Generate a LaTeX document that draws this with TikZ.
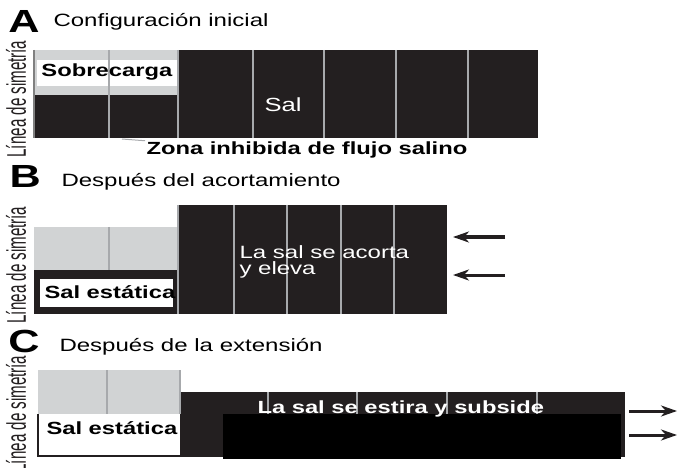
\documentclass[tikz,border=0pt]{standalone}
\usepackage{fontspec}
\setmainfont[FakeStretch=1.35]{Liberation Sans}
\newfontfamily\narrowfont[FakeStretch=0.56]{Liberation Sans}
\usetikzlibrary{arrows.meta,positioning}
\definecolor{saltc}{HTML}{231F20}
\definecolor{coverc}{HTML}{D1D3D4}
\definecolor{seamc}{HTML}{A7A9AC}

\begin{document}
\begin{tikzpicture}[x=1pt, y=-1pt, >={Stealth[length=16pt,width=11pt,inset=5pt]}, line width=3pt,
    font=\fontsize{17.8}{16}\selectfont,
    panel/.style={font=\fontsize{32}{32}\selectfont\bfseries, anchor=base west, inner sep=0pt},
    title/.style={anchor=base west, inner sep=0pt},
    axis/.style={font=\narrowfont\fontsize{27}{27}\selectfont, rotate=90, inner sep=0pt, text=saltc},
    tag/.style={font=\fontsize{17.6}{15}\selectfont\bfseries, anchor=base west, inner sep=0pt},
    salttext/.style={text=white, inner sep=0pt},
    seam/.style={draw=seamc, line width=1.2pt}]
\useasboundingbox (0,0) rectangle (678,468);

% A: configuracion inicial
\fill[coverc] (34,50) rectangle (178,95);
\fill[saltc]  (34,95) rectangle (178,138);
\fill[white]  (37,60) rectangle (177,86);
\fill[saltc]  (178,50) rectangle (538,138);
\draw[seam] (109,50) -- (109,138) (178,50) -- (178,138) (253,50) -- (253,138)
            (324,50) -- (324,138) (396,50) -- (396,138) (468,50) -- (468,138);
\draw[gray, line width=1.2pt] (34,50) -- (34,138);

\node[panel] (a)       at (7,33)   {A};
\node[title] (a title) at (52,27)  {Configuración inicial};
\node[axis]  (a axis)  at (16,99)  {Línea de simetría};
\node[tag]   (cover)   at (40,77)  {Sobrecarga};
\node[salttext, anchor=base west, font=\fontsize{19}{19}\selectfont] (salt) at (263,112) {Sal};
\node[tag]   (zone)    at (145,155) {Zona inhibida de flujo salino};
\coordinate  (zone tip) at (122,139);
\draw[seamc, line width=1pt] (zone tip) -- (zone.north west);

% B: despues del acortamiento
\fill[coverc] (34,227) rectangle (178,270);
\fill[saltc]  (34,270) rectangle (178,314);
\fill[white]  (40,279) rectangle (173,307);
\fill[saltc]  (178,205) rectangle (447,314);
\draw[seam] (109,227) -- (109,270) (178,205) -- (178,314) (234,205) -- (234,314)
            (287,205) -- (287,314) (341,205) -- (341,314) (394,205) -- (394,314);

\node[panel] (b)       at (8,188)  {B};
\node[title] (b title) at (60,187) {Después del acortamiento};
\node[axis]  (b axis)  at (16,265) {Línea de simetría};
\node[tag]   (b static) at (43,298) {Sal estática};
\node[salttext, anchor=north west, align=left] (rise) at (238,244) {La sal se acorta\\y eleva};
\coordinate (push top)    at (505,237);
\coordinate (push top e)  at (453,237);
\coordinate (push low)    at (505,275);
\coordinate (push low e)  at (453,275);
\draw[->, saltc] (push top) -- (push top e);
\draw[->, saltc] (push low) -- (push low e);

% C: despues de la extension
\fill[coverc] (38,370) rectangle (180,414);
\fill[white]  (38,414) rectangle (180,456);
\fill[saltc]  (180,392) rectangle (625,457);
\fill[black]  (223,414) rectangle (621,459);
\draw[seam] (107,370) -- (107,414) (180,370) -- (180,414) (268,392) -- (268,414)
            (357,392) -- (357,414) (447,392) -- (447,414) (537,392) -- (537,414);
\draw[saltc, line width=1.2pt] (38,414) -- (38,456) -- (180,456);

\node[panel] (c)       at (7,352)  {C};
\node[title] (c title) at (58,351) {Después de la extensión};
\node[axis]  (c axis)  at (16,414) {Línea de simetría};
\node[tag]   (c static) at (45,434) {Sal estática};
\node[tag, text=white] (sink) at (256,413) {La sal se estira y subside};
\coordinate (pull top)    at (629,411);
\coordinate (pull top e)  at (677,411);
\coordinate (pull low)    at (629,435);
\coordinate (pull low e)  at (677,435);
\draw[->, saltc] (pull top) -- (pull top e);
\draw[->, saltc] (pull low) -- (pull low e);
\end{tikzpicture}
\end{document}
